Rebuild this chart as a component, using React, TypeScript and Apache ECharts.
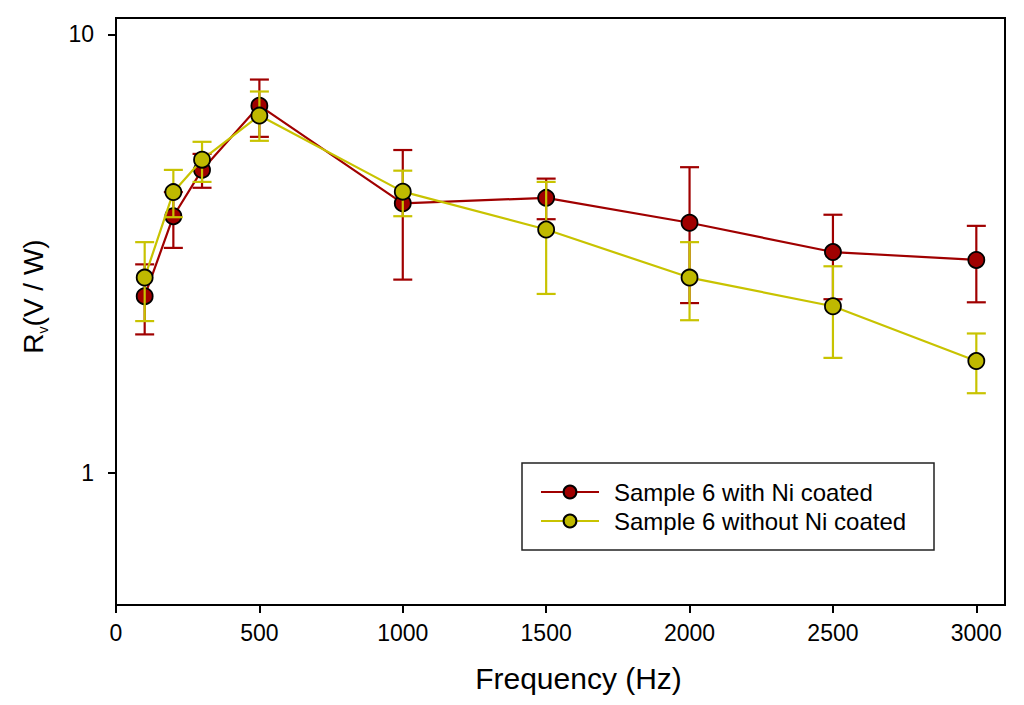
import { useEffect, useRef } from "react";
import * as echarts from "echarts";

const frequencies = [100, 200, 300, 500, 1000, 1500, 2000, 2500, 3000];

const withNi = [2.53, 3.85, 4.91, 6.88, 4.12, 4.24, 3.72, 3.19, 3.06];
const withNiHigh = [2.99, 4.37, 5.34, 7.89, 5.45, 4.69, 4.98, 3.88, 3.66];
const withNiLow = [2.07, 3.26, 4.47, 5.84, 2.76, 3.79, 2.44, 2.49, 2.45];

const withoutNi = [2.79, 4.37, 5.18, 6.53, 4.38, 3.59, 2.79, 2.4, 1.8];
const withoutNiHigh = [3.36, 4.91, 5.69, 7.41, 4.89, 4.61, 3.36, 2.96, 2.08];
const withoutNiLow = [2.22, 3.83, 4.61, 5.72, 3.85, 2.56, 2.23, 1.83, 1.52];

const xTicks = [0, 500, 1000, 1500, 2000, 2500, 3000];
const yTicks = [1, 10];

const seriesNames = ["Sample 6 with Ni coated", "Sample 6 without Ni coated"];

const FONT = "'Liberation Sans', Arial, sans-serif";
const RED_LINE = "#a00000";
const RED_FILL = "#a00000";
const YEL_LINE = "#c8c300";
const YEL_FILL = "#bfb900";

const errorBars = (color: string) => (_params: any, api: any) => {
  const x = api.value(0);
  const lo = api.coord([x, api.value(1)]);
  const hi = api.coord([x, api.value(2)]);
  const hw = 9.5;
  const style = { stroke: color, lineWidth: 2.2 };
  return {
    type: "group",
    children: [
      { type: "line", shape: { x1: hi[0], y1: hi[1], x2: lo[0], y2: lo[1] }, style },
      { type: "line", shape: { x1: hi[0] - hw, y1: hi[1], x2: hi[0] + hw, y2: hi[1] }, style },
      { type: "line", shape: { x1: lo[0] - hw, y1: lo[1], x2: lo[0] + hw, y2: lo[1] }, style },
    ],
  };
};

const App: React.FC = () => {
  const chartRef = useRef<HTMLDivElement>(null);

  useEffect(() => {
    if (!chartRef.current) return;
    const chart = echarts.init(chartRef.current, null, { renderer: "svg" });

    const option = {
      animation: false,
      backgroundColor: "#fff",
      textStyle: { fontFamily: FONT },
      grid: {
        left: 116,
        right: 19,
        top: 18,
        bottom: 100,
        show: true,
        borderColor: "#000",
        borderWidth: 2,
        outerBoundsMode: "none",
      },
      xAxis: {
        type: "value",
        min: 0,
        max: 3100,
        interval: 500,
        name: "Frequency (Hz)",
        nameLocation: "middle",
        nameGap: 58,
        nameTextStyle: { fontSize: 30, color: "#000", fontFamily: FONT, padding: [0, 0, 0, 36] },
        axisLine: { lineStyle: { color: "#000", width: 2 } },
        axisTick: { inside: false, length: 8, lineStyle: { color: "#000", width: 2 }, customValues: xTicks },
        axisLabel: {
          fontSize: 23,
          color: "#000",
          margin: 16,
          customValues: xTicks,
          formatter: (v: number) => String(v),
        },
        splitLine: { show: false },
      },
      yAxis: {
        type: "log",
        logBase: 10,
        min: 0.5,
        max: 10.9,
        name: "{r|R}{s|v}{r|(V / W)}",
        nameLocation: "middle",
        nameGap: 66,
        nameTextStyle: {
          color: "#000",
          padding: [0, 0, 0, 30],
          rich: {
            r: { fontSize: 28, fontFamily: FONT, color: "#000", lineHeight: 34 },
            s: { fontSize: 14, fontFamily: FONT, color: "#000", verticalAlign: "bottom", lineHeight: 34 },
          },
        },
        axisLine: { lineStyle: { color: "#000", width: 2 } },
        axisTick: { inside: false, length: 8, lineStyle: { color: "#000", width: 2 }, customValues: yTicks },
        axisLabel: { fontSize: 23, color: "#000", margin: 22, customValues: yTicks },
        minorTick: { show: false },
        splitLine: { show: false },
      },
      legend: {
        data: seriesNames,
        orient: "vertical",
        left: 540,
        top: 480,
        itemWidth: 58,
        itemHeight: 16,
        itemGap: 5,
        padding: 0,
        textStyle: { fontSize: 24, color: "#000", fontFamily: FONT, padding: [0, 0, 0, 10] },
      },
      graphic: [
        {
          type: "rect",
          shape: { x: 522, y: 463, width: 412, height: 87 },
          style: { fill: "none", stroke: "#222", lineWidth: 1.5 },
          z: 10,
        },
      ],
      series: [
        {
          type: "custom",
          name: "err-with",
          renderItem: errorBars(RED_LINE),
          data: frequencies.map((f, i) => [f, withNiLow[i], withNiHigh[i]]),
          encode: { x: 0, y: [1, 2] },
          z: 1,
          silent: true,
        },
        {
          type: "line",
          name: seriesNames[0],
          data: frequencies.map((f, i) => [f, withNi[i]]),
          symbol: "circle",
          symbolSize: 16,
          lineStyle: { color: RED_LINE, width: 2.2 },
          itemStyle: { color: RED_FILL, borderColor: "#000", borderWidth: 1.8 },
          z: 2,
        },
        {
          type: "custom",
          name: "err-without",
          renderItem: errorBars(YEL_LINE),
          data: frequencies.map((f, i) => [f, withoutNiLow[i], withoutNiHigh[i]]),
          encode: { x: 0, y: [1, 2] },
          z: 3,
          silent: true,
        },
        {
          type: "line",
          name: seriesNames[1],
          data: frequencies.map((f, i) => [f, withoutNi[i]]),
          symbol: "circle",
          symbolSize: 16,
          lineStyle: { color: YEL_LINE, width: 2.2 },
          itemStyle: { color: YEL_FILL, borderColor: "#000", borderWidth: 1.8 },
          z: 4,
        },
      ],
    };

    chart.setOption(option);
    return () => {
      chart.dispose();
    };
  }, []);

  return (
    <div
      ref={chartRef}
      style={{ position: "absolute", left: 0, top: 0, width: "1024px", height: "705px" }}
    />
  );
};

export default App;
